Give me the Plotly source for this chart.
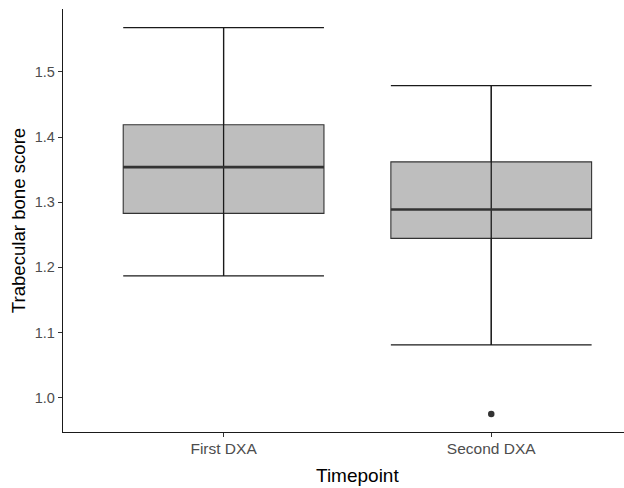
import plotly.graph_objects as go

categories = ["First DXA", "Second DXA"]
lower_whisker = [1.187, 1.081]
q1 = [1.283, 1.2445]
median = [1.354, 1.289]
q3 = [1.419, 1.362]
upper_whisker = [1.568, 1.479]
outlier_cat = ["Second DXA"]
outlier_y = [0.975]

ytick_vals = [1.0, 1.1, 1.2, 1.3, 1.4, 1.5]
ytick_text = ["1.0", "1.1", "1.2", "1.3", "1.4", "1.5"]

pos = [i + 1 for i in range(len(categories))]
half = 0.375
FONT = "Liberation Sans, Arial, Helvetica, sans-serif"

fig = go.Figure()

fig.add_trace(go.Box(
    x=pos, q1=q1, median=median, q3=q3,
    lowerfence=lower_whisker, upperfence=upper_whisker,
    width=0.75, whiskerwidth=0,
    fillcolor="#BEBEBE", line=dict(color="#333333", width=1.1),
    boxpoints=False, showlegend=False, hoverinfo="skip",
))

# error bars (whiskers with caps)
ex, ey = [], []
for p, lo, hi in zip(pos, lower_whisker, upper_whisker):
    ex += [p - half, p + half, None, p, p, None, p - half, p + half, None]
    ey += [lo, lo, None, lo, hi, None, hi, hi, None]
fig.add_trace(go.Scatter(x=ex, y=ey, mode="lines",
                         line=dict(color="#1a1a1a", width=1.3),
                         showlegend=False, hoverinfo="skip"))

# thick median
mx, my = [], []
for p, m in zip(pos, median):
    mx += [p - half, p + half, None]
    my += [m, m, None]
fig.add_trace(go.Scatter(x=mx, y=my, mode="lines",
                         line=dict(color="#333333", width=2.6),
                         showlegend=False, hoverinfo="skip"))

# outliers
ox = [pos[categories.index(c)] for c in outlier_cat]
fig.add_trace(go.Scatter(x=ox, y=outlier_y, mode="markers",
                         marker=dict(color="#333333", size=6.5),
                         showlegend=False, hoverinfo="skip"))

fig.update_layout(
    width=624, height=488,
    margin=dict(l=63, r=0, t=9, b=56),
    paper_bgcolor="white", plot_bgcolor="white",
    font=dict(family=FONT),
    xaxis=dict(
        range=[0.4, 2.496], tickvals=pos, ticktext=categories,
        showline=True, linecolor="#1a1a1a", linewidth=1.3,
        ticks="outside", ticklen=4, tickcolor="#333333", tickwidth=1,
        tickfont=dict(size=15.5, color="#4D4D4D"),
        ticklabelstandoff=-2,
        showgrid=False, zeroline=False,
    ),
    yaxis=dict(
        range=[0.9473, 1.5967], tickvals=ytick_vals, ticktext=ytick_text,
        showline=True, linecolor="#1a1a1a", linewidth=1.3,
        ticks="outside", ticklen=4, tickcolor="#333333", tickwidth=1,
        tickfont=dict(size=14.5, color="#4D4D4D"),
        showgrid=False, zeroline=False,
        title=dict(text="Trabecular bone score", font=dict(size=18.6, color="#000000"), standoff=4),
    ),
    annotations=[dict(
        text="Timepoint", x=1.5, xref="x", y=-0.104, yref="paper",
        xanchor="center", yanchor="middle", showarrow=False,
        font=dict(size=19, color="#000000"),
    )],
)

fig.write_html("out.html")
